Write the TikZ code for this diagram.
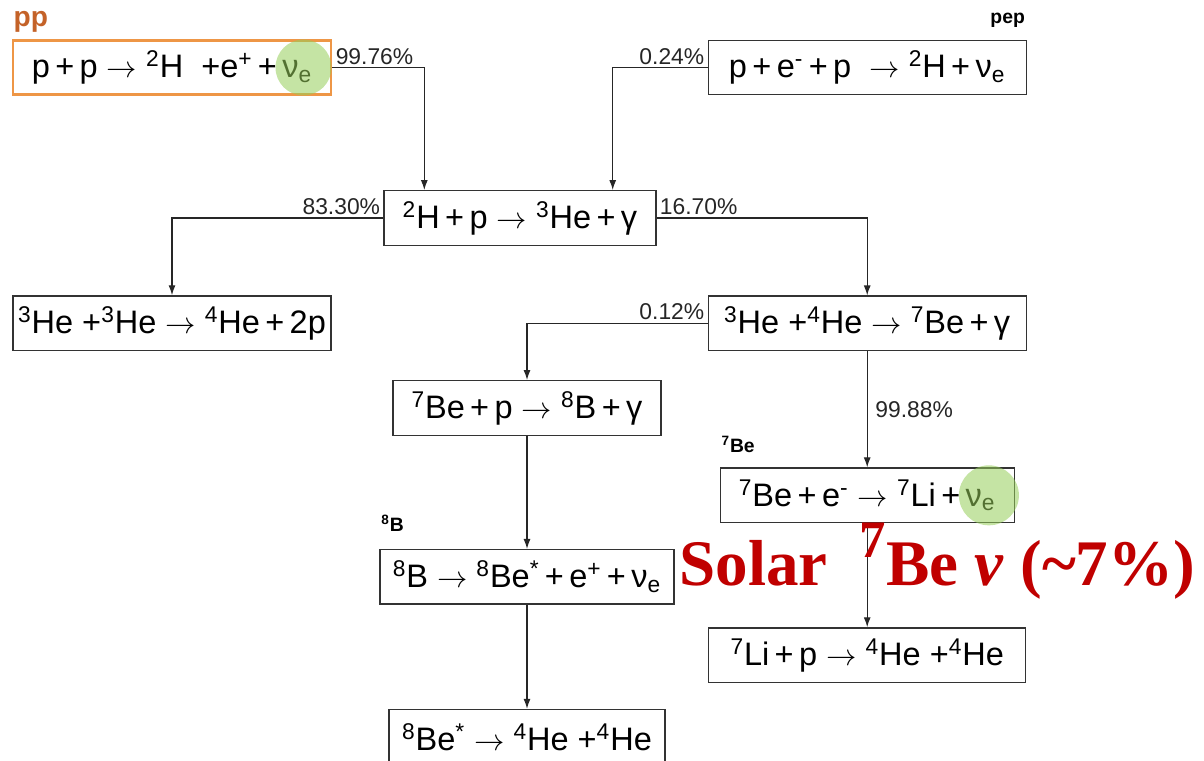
\documentclass[tikz,border=0pt]{standalone}
\usepackage{fontspec}
\setmainfont{Liberation Sans}
\newfontfamily\solarfont{Liberation Serif}
\usetikzlibrary{positioning, arrows.meta}

\definecolor{ppOrange}{RGB}{238,150,70}
\definecolor{ppTag}{RGB}{196,98,40}
\definecolor{nuGreen}{RGB}{150,205,90}
\definecolor{solarRed}{RGB}{192,0,0}

\newcommand{\iso}[2]{\textsuperscript{#1}#2}
\newcommand{\nue}{ν\textsubscript{e}}
\newcommand{\goes}{\ensuremath{\rightarrow}}

\begin{document}
\begin{tikzpicture}[
  font=\fontsize{18.5}{21}\selectfont,
  rx/.style={draw=black!80, line width=0.8pt, minimum height=1.09cm, inner sep=2pt},
  ppbox/.style={rx, draw=ppOrange, line width=1.7pt},
  pct/.style={font=\fontsize{13}{15}\selectfont, inner sep=1.5pt},
  tag/.style={font=\fontsize{11}{13}\selectfont\bfseries, inner sep=1pt},
  nuspot/.style={circle, minimum size=1.12cm, inner sep=0pt, fill=nuGreen, fill opacity=0.55},
  solar/.style={font=\solarfont\fontsize{37}{40}\selectfont\bfseries, text=solarRed, inner sep=0pt},
  ar/.style={-{Latex[length=2mm, width=1.4mm]}, line width=0.7pt, black!85}
]
\path[use as bounding box] (0,0) rectangle (24.08,-15.2);

% Row 1: the two ways to make deuterium
\node[ppbox, minimum width=6.36cm] (pp) at (3.44,-1.35) {p\,+\,p \goes\ \iso{2}{H} \ +e\textsuperscript{+}\,+\,\nue};
\node[rx, minimum width=6.36cm, right=7.5cm of pp] (pep) {p\,+\,e\textsuperscript{-}\,+\,p \ \goes\ \iso{2}{H}\,+\,\nue};
\node[tag, font=\fontsize{16}{18}\selectfont\bfseries, text=ppTag, above=0.08cm of pp.north west, anchor=south west] {pp};
\node[tag, above=0.2cm of pep.north east, anchor=south east] {pep};

% Row 2: deuterium burning
\node[rx, minimum width=5.44cm] (dh) at (10.40,-4.36) {\iso{2}{H}\,+\,p \goes\ \iso{3}{He}\,+\,γ};

% Row 3: the two helium-3 branches
\node[rx, minimum width=6.36cm, below=3.98cm of pp] (hehe) {\iso{3}{He} +\iso{3}{He} \goes\ \iso{4}{He}\,+\,2p};
\node[rx, minimum width=6.36cm, below=4cm of pep] (hebe) {\iso{3}{He} +\iso{4}{He} \goes\ \iso{7}{Be}\,+\,γ};

% ppIII branch (left column)
\node[rx, minimum width=5.36cm] (bep) at (10.54,-8.16) {\iso{7}{Be}\,+\,p \goes\ \iso{8}{B}\,+\,γ};
\node[rx, minimum width=5.88cm, below=2.26cm of bep] (bb) {\iso{8}{B} \goes\ \iso{8}{Be}\textsuperscript{*}\,+\,e\textsuperscript{+}\,+\,\nue};
\node[rx, minimum width=5.52cm, below=2.08cm of bb] (bes) {\iso{8}{Be}\textsuperscript{*} \goes\ \iso{4}{He} +\iso{4}{He}};
\node[tag, above=0.3cm of bb.north west, anchor=south west] {\iso{8}{B}};

% ppII branch (right column)
\node[rx, minimum width=5.88cm, below=2.32cm of hebe] (bee) {\iso{7}{Be}\,+\,e\textsuperscript{-} \goes\ \iso{7}{Li}\,+\,\nue};
\node[rx, minimum width=6.34cm, below=2.08cm of bee] (lip) {\iso{7}{Li}\,+\,p \goes\ \iso{4}{He} +\iso{4}{He}};
\node[tag, above=0.25cm of bee.north west, anchor=south west] {\iso{7}{Be}};

% neutrino highlights
\node[nuspot] (ppnu) at ([xshift=-0.58cm]pp.east) {};
\node[nuspot, minimum height=1.2cm] (beenu) at ([xshift=-0.52cm]bee.east) {};

% connectors with branching ratios
\draw[ar] (pp.east) -| ([xshift=0.82cm]dh.north west) node[pct, pos=0, anchor=south west] {99.76\%};
\draw[ar] (pep.west) -| ([xshift=-0.88cm]dh.north east) node[pct, pos=0, anchor=south east] {0.24\%};
\draw[ar] (dh.west) -| (hehe.north) node[pct, pos=0, anchor=south east] {83.30\%};
\draw[ar] (dh.east) -| (hebe.north) node[pct, pos=0, anchor=south west] {16.70\%};
\draw[ar] (hebe.west) -| (bep.north) node[pct, pos=0, anchor=south east] {0.12\%};
\draw[ar] (hebe.south) -- (bee.north) node[pct, midway, right=0.1cm] {99.88\%};
\draw[ar] (bee.south) -- (lip.north);
\draw[ar] (bep.south) -- (bb.north);
\draw[ar] (bb.south) -- (bes.north);

% annotation
\node[solar, anchor=base west] (solarnote) at (13.58,-11.7) {Solar\ \ \raisebox{0.42em}{\fontsize{30}{30}\selectfont 7}Be \textit{ν} (\textasciitilde 7\%)};

\end{tikzpicture}
\end{document}
